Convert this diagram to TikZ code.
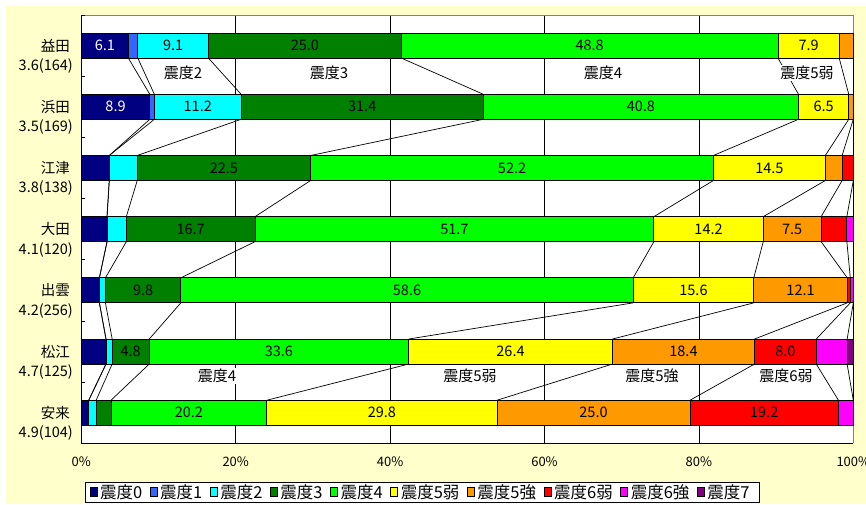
\documentclass[tikz,border=0pt]{standalone}
\usepackage{fontspec}
\setmainfont{Noto Sans CJK JP}
\usepackage{tikz}
\usetikzlibrary{positioning}
\usepackage{xcolor}
\definecolor{bgyellow}{RGB}{255,255,204}
\definecolor{frgray}{RGB}{128,128,128}
\definecolor{sd0}{RGB}{0,0,128}
\definecolor{sd1}{RGB}{51,102,255}
\definecolor{sd2}{RGB}{0,255,255}
\definecolor{sd3}{RGB}{0,128,0}
\definecolor{sd4}{RGB}{0,255,0}
\definecolor{sd5}{RGB}{255,255,0}
\definecolor{sd6}{RGB}{255,153,0}
\definecolor{sd7}{RGB}{255,0,0}
\definecolor{sd8}{RGB}{255,0,255}
\definecolor{sd9}{RGB}{128,0,128}
\tikzstyle{seg} = [draw=black, line width=0.8pt]
\tikzstyle{serline} = [line width=0.7pt]
\tikzstyle{val} = [inner sep=0pt, font=\fontsize{14.5}{16}\selectfont]
\tikzstyle{catlab} = [anchor=east, inner sep=0pt, font=\fontsize{14.5}{16}\selectfont]
\tikzstyle{zone} = [fill=white, inner sep=1pt, font=\fontsize{15}{17}\selectfont]
\tikzstyle{axlab} = [inner sep=0pt, font=\fontsize{13}{15}\selectfont]
\tikzstyle{legmark} = [draw=black, line width=0.6pt, minimum width=7pt, minimum height=8.5pt, inner sep=0pt]
\tikzstyle{legtext} = [inner sep=0pt, font=\fontsize{16.5}{18}\selectfont]

\begin{document}
\begin{tikzpicture}[x=1pt, y=-1pt]
\useasboundingbox (0,0) rectangle (866,504);
% chart background and plot area
\fill[bgyellow] (6,6) rectangle (866,504);
\fill[white] (81.3,15) rectangle (853.3,443.3);
\foreach \g in {20,40,60,80}
  \draw[line width=0.8pt] ({81.3+7.72*\g},15) -- ({81.3+7.72*\g},443.3);
\draw[frgray, line width=0.8pt] (81.3,15) -- (853.3,15) -- (853.3,443.3);
\draw[line width=0.9pt] (81.3,15) -- (81.3,443.3) -- (853.3,443.3);
\foreach \t in {0,...,7}
  \draw[line width=0.8pt] (81.3,{15+61.19*\t}) -- (85.3,{15+61.19*\t});
% axis labels
\foreach \g in {0,20,...,100}
  \node[axlab] (ax\g) at ({81.3+7.72*\g},462) {\g\%};

% bars: name / mean(n) / n / counts for shindo 0..7
\foreach \name/\sub/\tot/\counts [count=\row from 0] in {
  益田/3.6(164)/164/{10,2,15,41,80,13,3,0,0,0},
  浜田/3.5(169)/169/{15,1,19,53,69,11,1,0,0,0},
  江津/3.8(138)/138/{5,0,5,31,72,20,3,2,0,0},
  大田/4.1(120)/120/{4,0,3,20,62,17,9,4,1,0},
  出雲/4.2(256)/256/{6,0,2,25,150,40,31,1,1,0},
  松江/4.7(125)/125/{4,0,1,6,42,33,23,10,5,1},
  安来/4.9(104)/104/{1,0,1,2,21,31,26,20,2,0}} {
  \pgfmathsetmacro\yc{15+61.19*(\row+0.5)}
  \node[catlab] (cn\row) at (70,\yc) {\name};
  \node[catlab] (cs\row) at (73,\yc+20.5) {\sub};
  \gdef\runsum{0}
  \foreach \cnt [count=\sr from 0] in \counts {
    \pgfmathsetmacro\xa{81.3+772*(\runsum/\tot)}
    \pgfmathsetmacro\cum{\runsum+\cnt}
    \xdef\runsum{\cum}
    \pgfmathsetmacro\xb{81.3+772*(\cum/\tot)}
    \ifnum\cnt>0
      \filldraw[seg, fill=sd\sr] (\xa,\yc-12.5) rectangle (\xb,\yc+12.5);
    \fi
    \coordinate (t\row-\sr) at (\xb,\yc-12.5);
    \coordinate (u\row-\sr) at (\xb,\yc+12.5);
    \pgfmathsetmacro\pc{100*(\cnt/\tot)}
    \pgfmathtruncatemacro\showv{\pc>4.45}
    \ifnum\showv=1
      \ifnum\sr=0 \def\txtcol{white}\else\def\txtcol{black}\fi
      \node[val, text=\txtcol] (v\row-\sr) at ({(\xa+\xb)/2},\yc)
        {\pgfmathprintnumber[fixed,precision=1,fixed zerofill,assume math mode=true]{\pc}};
    \fi
  }
}

% series lines
\foreach \row in {0,...,5} {
  \pgfmathtruncatemacro\nxt{\row+1}
  \foreach \sr in {0,...,9}
    \draw[serline] (u\row-\sr) -- (t\nxt-\sr);
}

% shindo names between bars
\node[zone] (za2) at (183,73) {震度2};
\node[zone] (za3) at (329,73) {震度3};
\node[zone] (za4) at (603,73) {震度4};
\node[zone] (za5) at (807,73) {震度5弱};
\node[zone] (zb4) at (217,376) {震度4};
\node[zone] (zb5) at (470,376) {震度5弱};
\node[zone] (zb6) at (652,376) {震度5強};
\node[zone] (zb7) at (786,376) {震度6弱};

% legend
\draw[line width=0.8pt, fill=white] (85,482) rectangle (759,502);
\node[legmark, fill=sd0] (lm0) at (93.5,492) {};
\node[legtext, right=2.5pt of lm0] (lt0) {震度0};
\foreach \sr/\lab [count=\prv from 0] in {1/震度1, 2/震度2, 3/震度3, 4/震度4,
    5/震度5弱, 6/震度5強, 7/震度6弱, 8/震度6強, 9/震度7} {
  \node[legmark, fill=sd\sr, right=7.5pt of lt\prv] (lm\sr) {};
  \node[legtext, right=2.5pt of lm\sr] (lt\sr) {\lab};
}
\end{tikzpicture}
\end{document}
